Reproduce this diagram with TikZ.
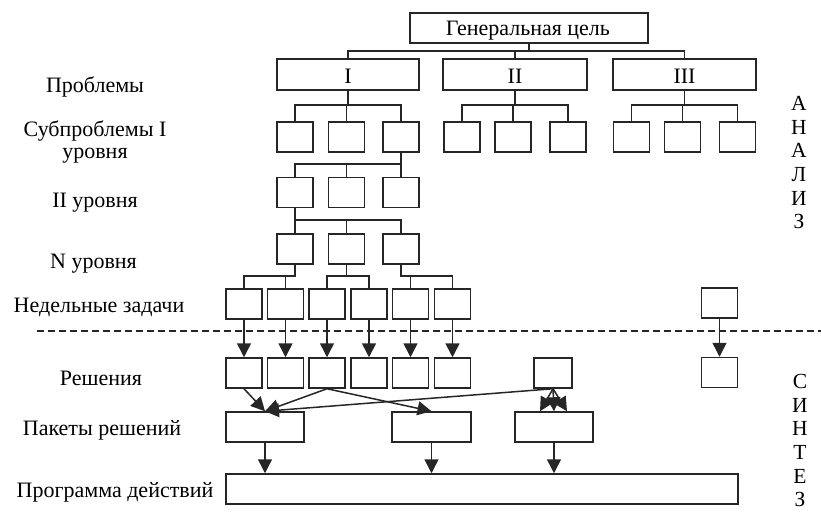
\documentclass[tikz,border=0pt]{standalone}
\usepackage{fontspec}
\setmainfont{Liberation Serif}
\usetikzlibrary{arrows.meta,calc}
\begin{document}
\begin{tikzpicture}[x=1pt,y=-1pt,
  line/.style={draw=black!85, line width=1.5pt},
  box/.style={line, rectangle, inner sep=0pt, minimum width=36pt, minimum height=30pt},
  arr/.style={line, -{Triangle[length=14pt,width=14pt]}},
  lbl/.style={font=\fontsize{22}{24}\selectfont, inner sep=0pt, anchor=base},
  vlbl/.style={font=\fontsize{21.5}{23.7}\selectfont, inner sep=0pt, align=center, anchor=north},
  sepline/.style={line, line width=1.2pt, dash pattern=on 7pt off 4pt}
]
\useasboundingbox (0,0) rectangle (821,522);

% top
\node[box, minimum width=238pt] (G) at (529,28) {};
\node[lbl] (Gt) at (528,35) {Генеральная цель};

% problems
\node[box, minimum width=142pt, minimum height=31pt] (P1) at (348,74.5) {};
\node[box, minimum width=144pt, minimum height=31pt] (P2) at (515,74.5) {};
\node[box, minimum width=143pt, minimum height=31pt] (P3) at (684.5,74.5) {};
\node[lbl] (P1t) at (348,83) {I};
\node[lbl] (P2t) at (515,83) {II};
\node[lbl] (P3t) at (684.5,83) {III};

% subproblems level I
\foreach \n/\x in {S11/295,S12/346.5,S13/401,S21/462,S22/513,S23/568,S31/631.5,S32/682.5,S33/737.5}
  \node[box] (\n) at (\x,137) {};
% level II
\foreach \n/\x in {L1/295,L2/346.5,L3/401}
  \node[box] (\n) at (\x,192.5) {};
% level N
\foreach \n/\x in {N1/295,N2/346.5,N3/401}
  \node[box] (\n) at (\x,249) {};
% weekly tasks
\foreach \n/\x in {W1/244,W2/285.5,W3/327,W4/369,W5/410.5,W6/452.5}
  \node[box] (\n) at (\x,304) {};
\node[box] (W7) at (719.5,303) {};
% solutions
\foreach \n/\x in {R1/244,R2/285.5,R3/327,R4/369,R5/410.5,R6/452.5}
  \node[box] (\n) at (\x,373) {};
\node[box, minimum width=38pt] (R7) at (553,373) {};
\node[box] (R8) at (719.5,372.5) {};
% packages
\node[box, minimum width=78pt] (K1) at (265,427) {};
\node[box, minimum width=79pt] (K2) at (431.5,427) {};
\node[box, minimum width=78pt] (K3) at (554,427) {};
% program
\node[box, minimum width=512pt] (PR) at (482,489) {};

% tree connectors
\foreach \c in {P1,P2,P3} \draw[line] (G.south) -- ++(0,7) -| (\c.north);
\foreach \c in {S11,S12,S13} \draw[line] (P1.south) -- ++(0,14) -| (\c.north);
\foreach \c in {S21,S22,S23} \draw[line] (P2.south) -- ++(0,14) -| (\c.north);
\foreach \c in {S31,S32,S33} \draw[line] (P3.south) -- ++(0,14) -| (\c.north);
\foreach \c in {L1,L2,L3} \draw[line] (S13.south) -- ++(0,11) -| (\c.north);
\foreach \c in {N1,N2,N3} \draw[line] (L1.south) -- ++(0,11.5) -| (\c.north);
\foreach \c in {W1,W2} \draw[line] (N1.south) -- ++(0,11) -| (\c.north);
\foreach \c in {W3,W4} \draw[line] (N2.south) -- ++(0,11) -| (\c.north);
\foreach \c in {W5,W6} \draw[line] (N3.south) -- ++(0,11) -| (\c.north);

% weekly -> solutions
\foreach \i in {1,...,6} \draw[arr] (W\i.south) -- (R\i.north);
\draw[arr] (W7.south) -- (R8.north);

% solutions -> packages
\draw[arr] (R1.south) -- (K1.north);
\draw[arr] (R3.south) -- (K1.north);
\draw[arr] (R3.south) -- (K2.north);
\draw[arr] (R7.south) -- (K1.north);
\draw[arr] (R7.south) -- ([xshift=-14pt]K3.north);
\draw[arr] (R7.south) -- (K3.north);
\draw[arr] (R7.south) -- ([xshift=13pt]K3.north);

% packages -> program
\foreach \k in {K1,K2,K3} \draw[arr] (\k.south) -- (\k.south |- PR.north);

% dashed separator
\coordinate (DL) at (37,331);
\coordinate (DR) at (821,331);
\draw[sepline] (DL) -- (DR);

% left labels
\node[lbl] (l1) at (95,92) {Проблемы};
\node[lbl] (l2) at (95,136) {Субпроблемы I};
\node[lbl] (l3) at (95,158) {уровня};
\node[lbl] (l4) at (95,207) {II уровня};
\node[lbl] (l5) at (93.5,268) {N уровня};
\node[lbl] (l6) at (99,312) {Недельные задачи};
\node[lbl] (l7) at (101,385) {Решения};
\node[lbl] (l8) at (102,435) {Пакеты решений};
\node[lbl] (l9) at (115,497) {Программа действий};

% right vertical labels
\node[vlbl] (an) at (799,96) {А\\Н\\А\\Л\\И\\З};
\node[vlbl] (sy) at (800,374) {С\\И\\Н\\Т\\Е\\З};
\end{tikzpicture}
\end{document}
